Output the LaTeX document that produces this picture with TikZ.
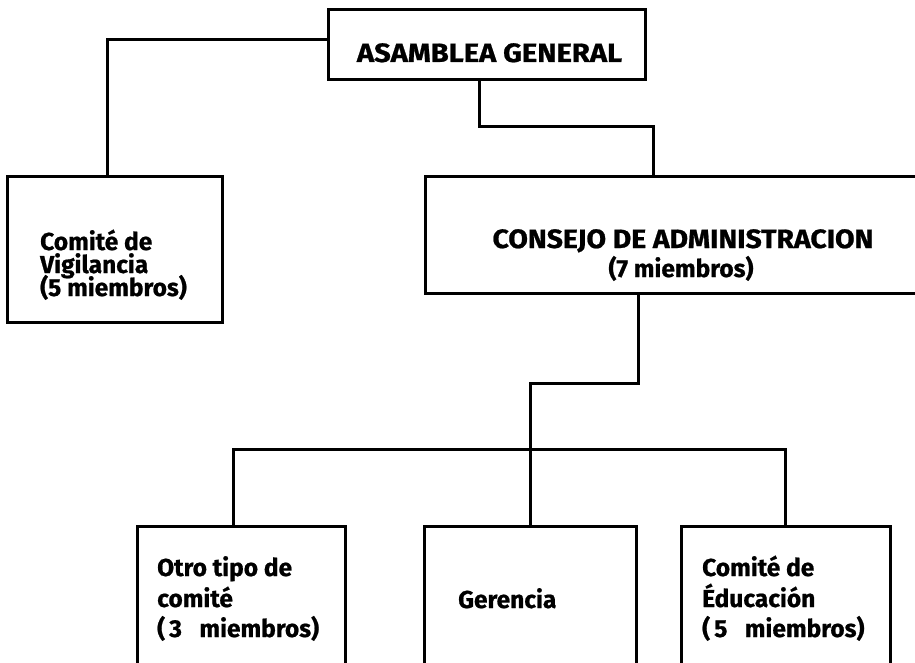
\documentclass[tikz,border=0pt]{standalone}
\usepackage{fontspec}
\setmainfont{Fira Sans}[BoldFeatures={FakeBold=0.8}]
\usetikzlibrary{calc}
\begin{document}
\begin{tikzpicture}[x=1pt,y=-1pt,
  box/.style={draw, line width=3pt, rectangle, inner sep=0pt},
  wire/.style={line width=3pt},
  lbl/.style={anchor=base west, inner sep=0pt, font=\fontsize{24.5}{28}\selectfont\bfseries},
  lblc/.style={anchor=base, inner sep=0pt, font=\fontsize{24.5}{28}\selectfont\bfseries},
  capc/.style={anchor=base, inner sep=0pt, font=\fontsize{26.5}{30}\selectfont\bfseries}]
\useasboundingbox (0,0) rectangle (915,663);
\clip (0,0) rectangle (915,663);
% boxes
\node[box, minimum width=317pt, minimum height=70pt] (AG) at (486.5,45) {};
\node[box, minimum width=215pt, minimum height=145pt] (Vig) at (114.5,249.5) {};
\node[box, minimum width=510pt, minimum height=116pt] (Con) at (680,235) {};
\node[box, minimum width=208pt, minimum height=170pt] (Otro) at (241,611) {};
\node[box, minimum width=212pt, minimum height=170pt] (Ger) at (530,611) {};
\node[box, minimum width=209pt, minimum height=170pt] (Edu) at (785.5,611) {};
% helper coordinates
\coordinate (k1) at (479,127);
\coordinate (k2) at (653,0);
\coordinate (k3) at (638,383);
\coordinate (k4) at (107,0);
\coordinate (k5) at (233,0);
\coordinate (bus) at (0,449);
% connectors
\draw[wire] ([yshift=5pt]AG.west) -| (Vig.north -| k4);
\draw[wire] (AG.south -| k1) -- (k1) -| (Con.north -| k2);
\draw[wire] (Con.south -| k3) -- (k3) -| (Ger.north);
\draw[wire] (Otro.north -| k5) |- (Edu.north |- bus) -- (Edu.north);
% texts
\node[capc] (tAG) at (489.5,62) {\scalebox{1.1}[1]{ASAMBLEA GENERAL}};
\node[lbl] (tV1) at (40,250) {Comité de};
\node[lbl] (tV2) at (40,273) {Vigilancia};
\node[lbl] (tV3) at (40,296) {(5 miembros)};
\node[capc] (tC1) at (683,248) {\scalebox{1.07}[1]{CONSEJO DE ADMINISTRACION}};
\node[lblc] (tC2) at (681,277) {(7 miembros)};
\node[lbl] (tO1) at (157,576) {Otro tipo de};
\node[lbl] (tO2) at (157,607) {comité};
\node[lbl] (tO3) at (157,637) {(\,3\ \ \ miembros)};
\node[lbl] (tG) at (458,608) {Gerencia};
\node[lbl] (tE1) at (702,576) {Comité de};
\node[lbl] (tE2) at (702,607) {Éducación};
\node[lbl] (tE3) at (702,637) {(\,5\ \ \ miembros)};
\end{tikzpicture}
\end{document}
